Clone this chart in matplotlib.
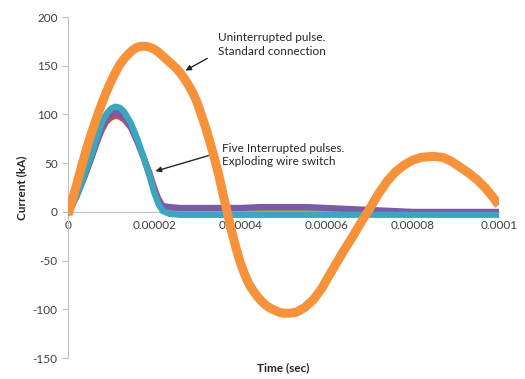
import numpy as np
import matplotlib
matplotlib.use('Agg')
import matplotlib.pyplot as plt

plt.rcParams['font.family'] = ['Lato', 'DejaVu Sans']
plt.rcParams['axes.unicode_minus'] = False

# time in units of 1e-5 s, current in kA
t_orange = [0.0, 0.1, 0.2, 0.3, 0.4, 0.5, 0.6, 0.7, 0.8, 0.9, 1.0, 1.1, 1.2, 1.3, 1.4, 1.5,
            1.6, 1.7, 1.8, 1.9, 2.0, 2.1, 2.2, 2.3, 2.4, 2.5, 2.6, 2.7, 2.8, 2.9, 3.0, 3.1,
            3.2, 3.3, 3.4, 3.5, 3.6, 3.7, 3.8, 3.9, 4.0, 4.1, 4.2, 4.3, 4.4, 4.5, 4.6, 4.7,
            4.8, 4.9, 5.0, 5.15, 5.3, 5.5, 5.7, 5.9, 6.0, 6.2, 6.4, 6.6, 6.8, 7.0, 7.2, 7.4,
            7.6, 7.8, 8.0, 8.2, 8.47, 8.7, 8.9, 9.1, 9.3, 9.5, 9.7, 9.85, 10.0]
i_orange = [-3, 12, 28, 44, 60, 75, 88, 101, 113, 124, 134, 143, 151, 157, 162, 166,
            169, 170, 170, 169, 167, 164, 160, 156, 152, 148, 143, 137, 130, 122, 112, 99,
            86, 71, 55, 38, 18, -1, -20, -37, -52, -64, -74, -81, -87, -92, -96, -99,
            -101, -103, -104, -104, -103, -98, -90, -78, -70, -55, -40, -26, -11, 3, 18, 31,
            41, 48, 53, 56, 57, 56, 52, 46, 40, 33, 24, 16, 7]

t_pulse = [0, 0.1, 0.2, 0.3, 0.4, 0.5, 0.6, 0.7, 0.8, 0.9, 1.0, 1.1, 1.2, 1.3, 1.45, 1.6,
           1.75, 1.9, 2.0, 2.1, 2.2, 2.35, 2.6, 3.0, 3.5, 4.0, 4.5, 5.0, 5.5, 6.0, 6.5,
           7.0, 7.5, 8.0, 9.0, 10.0]
i_blue = [0, 7, 16, 27, 39, 52, 64, 78, 90, 98, 103, 105, 104, 100, 90, 75,
          57, 37, 21, 9, 2, -1, -2, -2, -2, -2, -2, -2, -2, -2, -2,
          -2, -2, -2, -2, -2]
i_red = [0, 6, 15, 26, 37, 49, 61, 73, 84, 92, 96, 98, 97, 94, 86, 73,
         58, 41, 27, 15, 7, 4, 3, 2, 1, 1, 1, 1, 1, 1, 1,
         0, 0, 0, 0, 0]
i_green = [0, 7, 16, 27, 39, 51, 64, 77, 89, 97, 102, 104, 103, 99, 89, 74,
           56, 36, 21, 9, 2, -1, -1, -1, -1, -1, -1, -1, -1, -1, -1,
           -1, -1, -1, -1, -1]
i_purple = [0, 7, 16, 27, 38, 50, 63, 76, 88, 96, 100, 102, 101, 97, 88, 73,
            56, 37, 22, 11, 6, 5, 4, 4, 4, 4, 5, 5, 5, 4, 3,
            2, 1, 0, 0, 0]
i_teal = [0, 7, 17, 28, 40, 53, 66, 80, 93, 101, 106, 108, 107, 103, 92, 76,
          57, 36, 20, 8, 1, -2, -3, -3, -3, -3, -3, -3, -3, -3, -3,
          -3, -3, -3, -3, -3]

x_ticks = [0, 0.00002, 0.00004, 0.00006, 0.00008, 0.0001]
x_ticklabels = ['0', '0.00002', '0.00004', '0.00006', '0.00008', '0.0001']
y_ticks = [-150, -100, -50, 0, 50, 100, 150, 200]

tp = np.array(t_pulse) * 1e-5
to = np.array(t_orange) * 1e-5

fig = plt.figure(figsize=(5.25, 3.79), dpi=100)
ax = fig.add_axes([0.1295, 0.0554, 0.8205, 0.8996])

ax.plot(tp, i_blue, color='#4F81BD', lw=3.5, zorder=3)
ax.plot(tp, i_red, color='#C0504D', lw=3.5, zorder=3)
ax.plot(tp, i_green, color='#9BBB59', lw=3.5, zorder=3)
ax.plot(tp, i_purple, color='#7B5BA6', lw=4.5, zorder=3)
ax.plot(tp, i_teal, color='#3AA6C0', lw=4.5, zorder=3)
ax.plot(to, i_orange, color='#F7923A', lw=6.5, zorder=4, solid_capstyle='butt',
        solid_joinstyle='round')

ax.set_xlim(0, 0.0001)
ax.set_ylim(-150, 200)
ax.set_xticks(x_ticks)
ax.set_xticklabels(x_ticklabels)
ax.set_yticks(y_ticks)

for s in ['top', 'right']:
    ax.spines[s].set_visible(False)
ax.spines['bottom'].set_position(('data', 0))
ax.spines['bottom'].set_color('#BFBFBF')
ax.spines['left'].set_color('#BFBFBF')
ax.spines['bottom'].set_zorder(1)
ax.tick_params(axis='x', length=0, pad=6, labelsize=8.5, colors='#404040')
ax.tick_params(axis='y', length=4, color='#BFBFBF', labelsize=8.5, labelcolor='#404040')

ax.set_ylabel('Current (kA)', fontsize=8.5, fontweight='bold', color='#262626', labelpad=4)
ax.set_xlabel('Time (sec)', fontsize=8.5, fontweight='bold', color='#262626')
ax.xaxis.set_label_coords(0.5, -0.012)

ax.text(3.48e-5, 172, 'Uninterrupted pulse.\nStandard connection', fontsize=8.5,
        color='#262626', va='center', ha='left', linespacing=1.3)
ax.annotate('', xy=(2.67e-5, 143.7), xytext=(3.29e-5, 159),
            arrowprops=dict(arrowstyle='-|>', color='#262626', lw=1, mutation_scale=8))
ax.text(3.57e-5, 58.5, 'Five Interrupted pulses.\nExploding wire switch', fontsize=8.5,
        color='#262626', va='center', ha='left', linespacing=1.3)
ax.annotate('', xy=(1.97e-5, 41), xytext=(3.32e-5, 58.5),
            arrowprops=dict(arrowstyle='-|>', color='#262626', lw=1, mutation_scale=8))

fig.savefig('out.png', dpi=100)
